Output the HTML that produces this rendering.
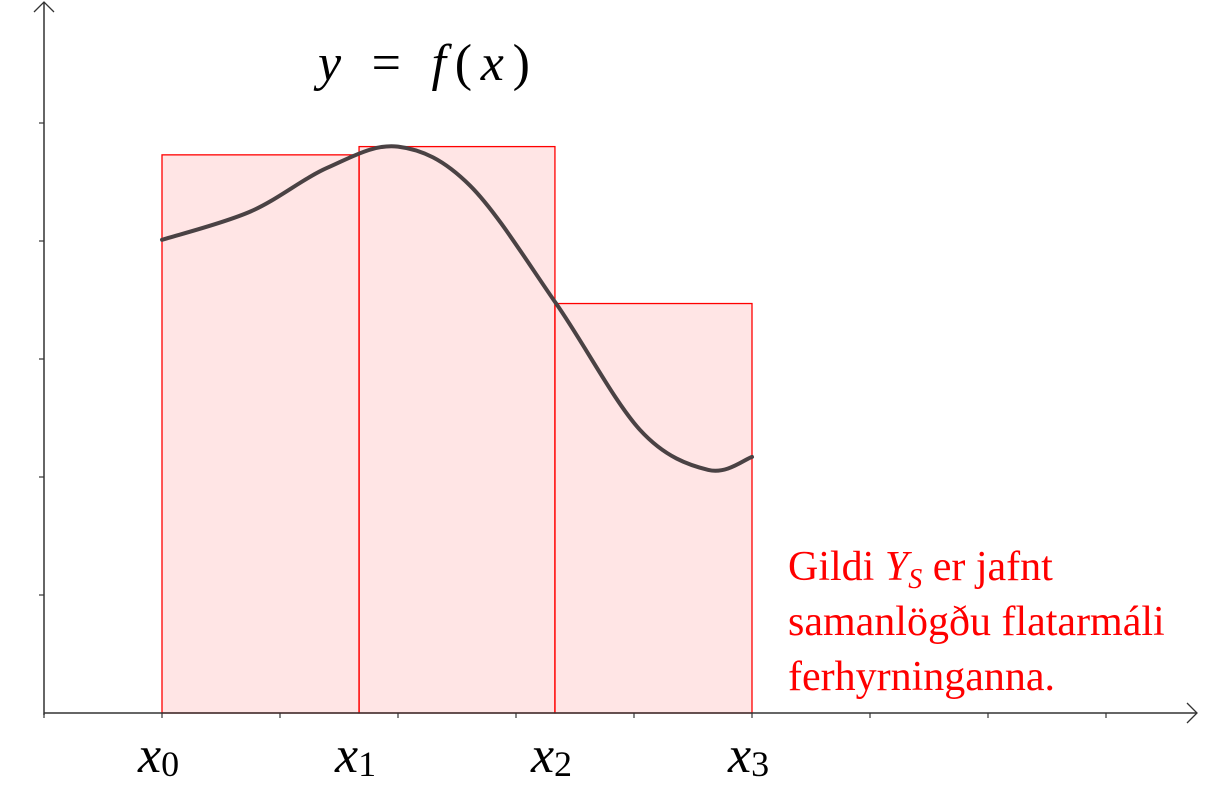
<!DOCTYPE html>
<html><head><meta charset="utf-8"><style>
html,body{margin:0;padding:0;background:#fff;}
svg{display:block;}
text{font-family:"Liberation Serif",serif;}
</style></head><body>
<svg id="chart" width="1212" height="799" viewBox="0 0 1212 799" xmlns="http://www.w3.org/2000/svg">
<g id="rects"></g>
<g id="axes"></g>
<path id="curve" fill="none" stroke="#4a4244" stroke-width="4" stroke-linecap="round"/>
<text x="318" y="80" font-size="52" font-style="italic" textLength="212">y <tspan font-style="normal">=</tspan> f<tspan font-style="normal">(</tspan>x<tspan font-style="normal">)</tspan></text>
<g id="xlabels"></g>
<text fill="#ff0000" font-size="42">
<tspan x="788" y="580">Gildi <tspan font-style="italic">Y</tspan><tspan font-style="italic" font-size="28" dy="8">S</tspan><tspan dy="-8"> er jafnt</tspan></tspan>
<tspan x="788" y="635">samanlögðu flatarmáli</tspan>
<tspan x="788" y="690">ferhyrninganna.</tspan>
</text>
</svg>
<script>
const partition = [1, 2.67, 4.33, 6.0];
const rectHeights = [4.73, 4.80, 3.47];
const xLabels = ["0","1","2","3"];
const curveX = [1, 1.75, 2.4, 3.0, 3.61, 4.34, 5.05, 5.63, 6.0];
const curveY = [4.01, 4.25, 4.62, 4.80, 4.47, 3.47, 2.40, 2.06, 2.17];
const xTicks = [0,1,2,3,4,5,6,7,8,9];
const yTicks = [1,2,3,4,5];

const ox=44, oy=713, u=118;
const sx=v=>ox+v*u, sy=v=>oy-v*u;
const NS="http://www.w3.org/2000/svg";
function mk(tag,attrs,parent){const e=document.createElementNS(NS,tag);for(const k in attrs)e.setAttribute(k,attrs[k]);parent.appendChild(e);return e;}

const rg=document.getElementById('rects');
for(let i=0;i<rectHeights.length;i++){
  const r=mk('rect',{x:sx(partition[i]),y:sy(rectHeights[i]),width:sx(partition[i+1])-sx(partition[i]),height:oy-sy(rectHeights[i]),fill:'rgba(255,0,0,0.1)',stroke:'#ff0000','stroke-width':1.3},rg);
  
  
}

const ag=document.getElementById('axes');
let a=mk('line',{x1:44,y1:oy,x2:1197,y2:oy,stroke:'#333','stroke-width':1.5},ag);


a=mk('path',{d:'M1187,703 L1197,713 L1187,723',fill:'none',stroke:'#333','stroke-width':1.3},ag);


a=mk('line',{x1:ox,y1:oy+2,x2:ox,y2:2,stroke:'#333','stroke-width':1.5},ag);


a=mk('path',{d:'M34,12 L44,2 L54,12',fill:'none',stroke:'#333','stroke-width':1.3},ag);


xTicks.forEach(t=>{const l=mk('line',{x1:sx(t),y1:oy,x2:sx(t),y2:oy+5,stroke:'#333','stroke-width':1.2},ag);
  
  });
yTicks.forEach(t=>{const l=mk('line',{x1:ox-5,y1:sy(t),x2:ox,y2:sy(t),stroke:'#333','stroke-width':1.2},ag);
  
  });

const P=curveX.map((x,i)=>[sx(x),sy(curveY[i])]);
let d='M'+P[0][0]+','+P[0][1];
for(let i=0;i<P.length-1;i++){
  const p0=P[i-1]||P[i],p1=P[i],p2=P[i+1],p3=P[i+2]||P[i+1];
  const c1=[p1[0]+(p2[0]-p0[0])/6,p1[1]+(p2[1]-p0[1])/6];
  const c2=[p2[0]-(p3[0]-p1[0])/6,p2[1]-(p3[1]-p1[1])/6];
  d+=' C'+c1+' '+c2+' '+p2;
}
document.getElementById('curve').setAttribute('d',d);

const lg=document.getElementById('xlabels');
partition.forEach((p,i)=>{
  const t=mk('text',{x:sx(p)-24,y:772,'font-size':52,'font-style':'italic'},lg);
  
  
  t.textContent='x';
  const s=mk('tspan',{'font-size':36,'font-style':'normal',dy:4},t);
  s.textContent=xLabels[i];
});
</script>
</body></html>
